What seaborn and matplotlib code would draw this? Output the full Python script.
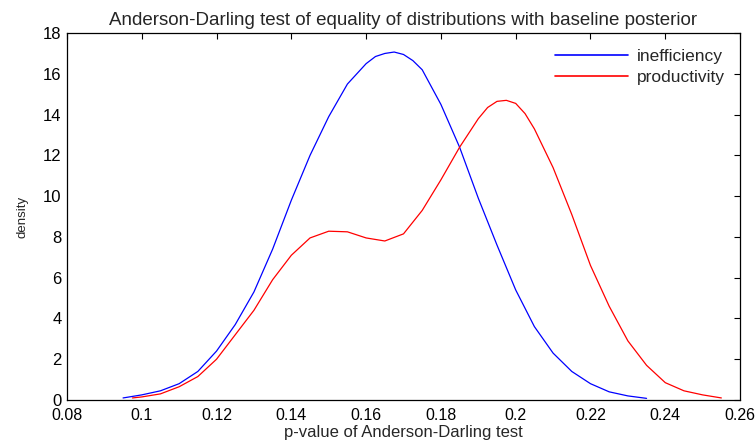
import numpy as np
import pandas as pd
import matplotlib
matplotlib.use("Agg")
import matplotlib.pyplot as plt
import seaborn as sns

# density curves
ineff_x = [0.095, 0.100, 0.105, 0.110, 0.115, 0.120, 0.125, 0.130, 0.135, 0.140,
           0.145, 0.150, 0.155, 0.160, 0.1625, 0.165, 0.1675, 0.170, 0.1725, 0.175,
           0.180, 0.185, 0.190, 0.195, 0.200, 0.205, 0.210, 0.215, 0.220, 0.225,
           0.230, 0.235]
ineff_y = [0.1, 0.25, 0.45, 0.8, 1.4, 2.4, 3.7, 5.3, 7.4, 9.8,
           12.0, 13.9, 15.5, 16.5, 16.85, 17.0, 17.07, 16.95, 16.65, 16.2,
           14.5, 12.4, 9.9, 7.6, 5.4, 3.6, 2.3, 1.4, 0.8, 0.4,
           0.2, 0.08]

prod_x = [0.0975, 0.100, 0.105, 0.110, 0.115, 0.120, 0.125, 0.130, 0.135, 0.140,
          0.145, 0.150, 0.155, 0.160, 0.165, 0.170, 0.175, 0.180, 0.185, 0.190,
          0.1925, 0.195, 0.1975, 0.200, 0.2025, 0.205, 0.210, 0.215, 0.220, 0.225,
          0.230, 0.235, 0.240, 0.245, 0.250, 0.255]
prod_y = [0.1, 0.15, 0.3, 0.65, 1.15, 2.0, 3.2, 4.4, 5.9, 7.1,
          7.95, 8.28, 8.25, 7.95, 7.8, 8.15, 9.3, 10.8, 12.4, 13.8,
          14.35, 14.65, 14.7, 14.55, 14.05, 13.3, 11.4, 9.1, 6.6, 4.6,
          2.9, 1.7, 0.85, 0.45, 0.25, 0.1]

df = pd.concat([
    pd.DataFrame({"x": ineff_x, "y": ineff_y, "series": "inefficiency"}),
    pd.DataFrame({"x": prod_x, "y": prod_y, "series": "productivity"}),
])

sns.set_style("white")
plt.rcParams['font.family'] = ['Liberation Sans', 'DejaVu Sans']

fig = plt.figure(figsize=(7.55, 4.41), dpi=100)
ax = fig.add_axes([0.0887, 0.093, 0.8915, 0.832])

sns.lineplot(data=df, x="x", y="y", hue="series",
             palette={"inefficiency": "#0000ff", "productivity": "#ff0000"},
             linewidth=0.9, ax=ax, sort=False)

ax.set_xlim(0.08, 0.26)
ax.set_ylim(0, 18)
ax.set_xticks(np.arange(0.08, 0.261, 0.02))
ax.set_xticklabels(["0.08", "0.1", "0.12", "0.14", "0.16", "0.18", "0.2", "0.22", "0.24", "0.26"])
ax.set_yticks(np.arange(0, 19, 2))
ax.tick_params(direction="in", top=True, right=True, length=4, width=0.8,
               labelsize=11.5, colors="black")
ax.tick_params(axis="x", pad=6)
ax.tick_params(axis="y", pad=4, labelsize=12)
for s in ax.spines.values():
    s.set_color("black")
    s.set_linewidth(0.9)

ax.set_title("Anderson-Darling test of equality of distributions with baseline posterior",
             fontsize=13.5, pad=6)
ax.set_xlabel("p-value of Anderson-Darling test", fontsize=12, labelpad=1)
ax.set_ylabel("density", fontsize=9.5, labelpad=10)

leg = ax.legend(loc="upper right", frameon=False, fontsize=12.5,
                handlelength=4.2, handletextpad=0.5, borderaxespad=0.5,
                labelspacing=0.35)
for h in leg.get_lines():
    h.set_linewidth(1.2)

fig.savefig("out.png", dpi=100)
